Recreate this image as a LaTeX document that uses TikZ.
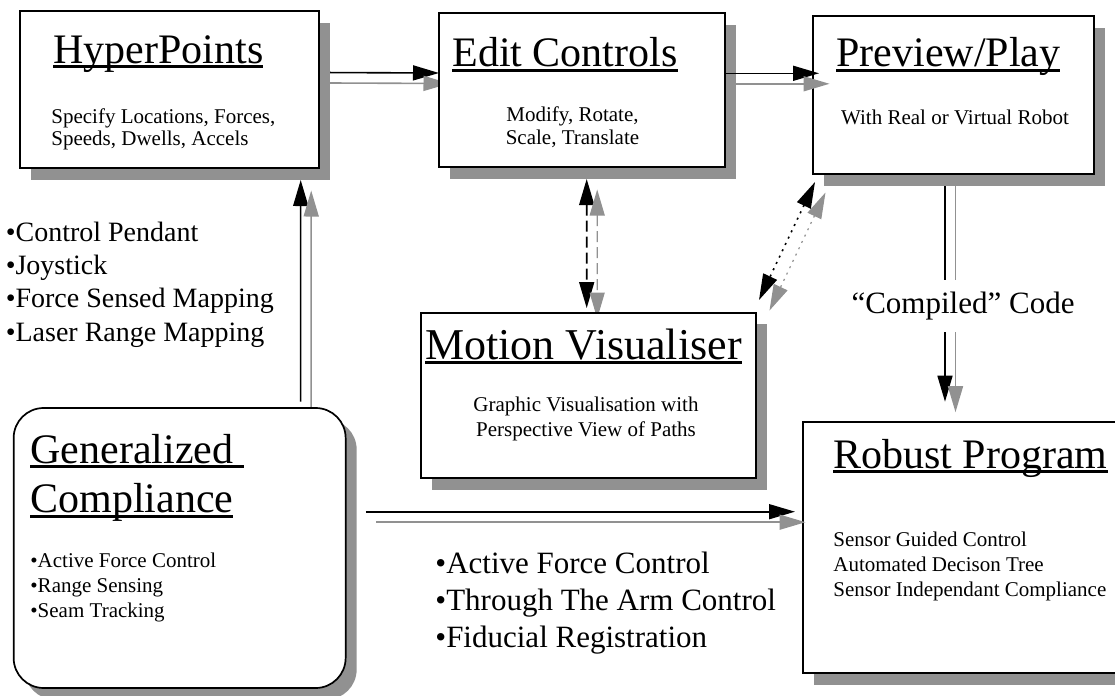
\documentclass[tikz,border=0pt]{standalone}
\usepackage{fontspec}
\setmainfont{Liberation Serif}
\usetikzlibrary{arrows.meta,shadows}

\definecolor{dropgray}{gray}{0.57}
\pgfdeclarelayer{back}
\pgfsetlayers{back,main}

% underlined box heading, rule cuts through the descenders
\newcommand\uhead[1]{\setbox0\hbox{#1}\rlap{\rule[-2.45pt]{\wd0}{1.5pt}}\box0}

\begin{document}
\begin{tikzpicture}
[x=0.5pt,y=-0.5pt,
 box/.style={draw,line width=0.85pt,fill=white,inner sep=0pt,outer sep=0pt,
   drop shadow={shadow xshift=5.5pt,shadow yshift=-5.75pt,fill=dropgray,opacity=1}},
 heading/.style={font=\fontsize{21}{24.7}\selectfont,inner sep=0pt,anchor=base west},
 note/.style={font=\fontsize{10.5}{12.5}\selectfont,inner sep=0pt,anchor=base},
 link/.style={line width=0.8pt,-{Triangle[length=13pt,width=7.5pt]}},
 twoway/.style={line width=0.8pt,{Triangle[length=13pt,width=7.5pt]}-{Triangle[length=13pt,width=7.5pt]}},
 echo/.style={dropgray,transform canvas={shift={(10.5,10.5)}}}]

\path[use as bounding box] (0,0) rectangle (1115,696);

\node[box,minimum width=149.5pt,minimum height=78.5pt] (hyper) at (169.5,89.5) {}; %hyperpoints
\node[box,minimum width=143pt,minimum height=77pt] (edit) at (582,90) {}; %edit
\node[box,minimum width=140.5pt,minimum height=79pt] (prev) at (953.5,95) {}; %preview
\node[box,minimum width=167.5pt,minimum height=82.65pt] (motion) at (588.5,395.4) {}; %visualiser
\node[box,minimum width=161.15pt,minimum height=125.65pt] (robust) at (963.85,547.35) {}; %program
\node[box,rounded corners=15pt,minimum width=166pt,minimum height=140pt] (gen) at (179.65,548) {}; %compliance

% multi-line texts sit on the baseline of their last line
\node[heading] (hyperT) at (53,63.3) {\uhead{HyperPoints}};
\node[note,align=left,anchor=base west,font=\fontsize{10.5}{11}\selectfont] (hyperB) at (51,145)
  {Specify Locations, Forces,\\Speeds, Dwells, Accels};

\node[heading] (editT) at (452,66.6) {\uhead{Edit Controls}};
\node[note,align=center,font=\fontsize{10.5}{11.65}\selectfont] (editB) at (572.5,144.7)
  {Modify, Rotate,\\Scale, Translate};

\node[heading] (prevT) at (836,66.6) {\uhead{Preview/Play}};
\node[note] (prevB) at (955,124.7) {With Real or Virtual Robot};

\node[heading,font=\fontsize{22}{26}\selectfont] (motionT) at (425,359.3) {\uhead{Motion Visualiser}};
\node[note,align=center] (motionB) at (586,436.7)
  {Graphic Visualisation with\\Perspective View of Paths};

\node[heading] (robustT) at (833,468.3) {\uhead{Robust Program}};
\node[note,align=left,anchor=base west] (robustB) at (833,596.4)
  {Sensor Guided Control\\Automated Decison Tree\\Sensor Independant Compliance};

\node[heading,align=left] (genT) at (30,512.7) {\uhead{Generalized\ }\\\uhead{Compliance}};
\node[note,align=left,anchor=base west,font=\fontsize{10.5}{12.35}\selectfont] (genB) at (30,617.1)
  {•Active Force Control\\•Range Sensing\\•Seam Tracking};

\node[inner sep=0pt,anchor=base west,align=left,font=\fontsize{14}{16.65}\selectfont] (teach) at (5.4,341.2)
  {•Control Pendant\\•Joystick\\•Force Sensed Mapping\\•Laser Range Mapping};
\node[inner sep=0pt,anchor=base west,align=left,font=\fontsize{15.5}{18.35}\selectfont] (sensing) at (435,647.1)
  {•Active Force Control\\•Through The Arm Control\\•Fiducial Registration};

\node[fill=white,inner xsep=0pt,minimum height=26pt,font=\fontsize{15.5}{18}\selectfont] (compiled) at (963,305.8)
  {“Compiled” Code};

% arrows running under the boxes
\begin{pgfonlayer}{back}
\draw[link] ([shift={(0,-17)}]hyper.east) -- ([shift={(0,-17)}]edit.west);
\draw[link,echo] ([shift={(0,-17)}]hyper.east) -- ([shift={(0,-17)}]edit.west);
\draw[link] ([shift={(121,-6.5)}]gen.north) -- ([shift={(131.2,12)}]hyper.south);
\draw[link,echo] ([shift={(121,-6.5)}]gen.north) -- ([shift={(131.2,12)}]hyper.south);
\draw[twoway,dash pattern=on 5.5pt off 2.5pt] ([shift={(4.7,12)}]edit.south) -- ([shift={(-1.8,-4.7)}]motion.north);
\draw[twoway,echo,line width=0.6pt,dash pattern=on 5.5pt off 2.5pt] ([shift={(4.7,12)}]edit.south) -- ([shift={(-1.8,-4.7)}]motion.north);
\draw[link] ([shift={(-8.5,0)}]prev.south) -- ([shift={(-18.85,-20)}]robust.north);
\draw[link,echo] ([shift={(-8.5,0)}]prev.south) -- ([shift={(-18.85,-20)}]robust.north);
\end{pgfonlayer}

% arrows on top
\draw[link] ([shift={(0,-16.7)}]edit.east) -- ([shift={(6,-21.7)}]prev.west);
\draw[link,echo] ([shift={(0,-16.7)}]edit.east) -- ([shift={(6,-21.7)}]prev.west);
\draw[twoway,dash pattern=on 1pt off 2.5pt] ([shift={(2,8)}]prev.south west) -- ([shift={(3,-12.7)}]motion.north east);
\draw[twoway,echo,line width=0.6pt,dash pattern=on 1pt off 2.5pt] ([shift={(2,8)}]prev.south west) -- ([shift={(3,-12.7)}]motion.north east);
\draw[link] ([shift={(20.3,-36.3)}]gen.east) -- ([shift={(-7.7,-35.65)}]robust.west);
\draw[link,echo] ([shift={(20.3,-36.3)}]gen.east) -- ([shift={(-7.7,-35.65)}]robust.west);

\end{tikzpicture}
\end{document}
